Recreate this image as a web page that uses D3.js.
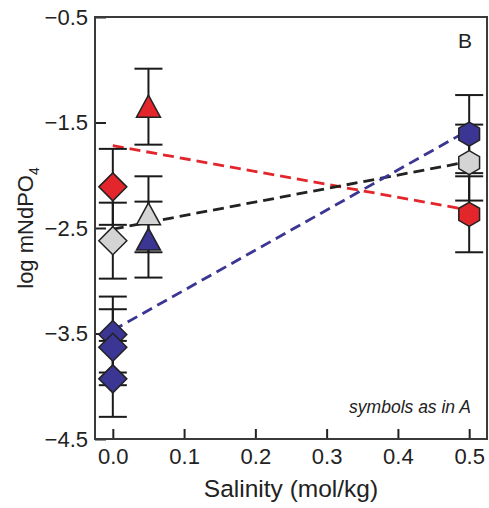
<!DOCTYPE html>
<html>
<head>
<meta charset="utf-8">
<script src="https://cdn.jsdelivr.net/npm/d3@7"></script>
<style>
  body { margin: 0; background: #fff; }
  svg text { font-family: "Liberation Sans", Arial, sans-serif; fill: #222; }
</style>
</head>
<body>
<div id="chart"></div>
<script>
// Data
const salinity = [0, 0, 0, 0, 0, 0.05, 0.05, 0.05, 0.5, 0.5, 0.5];
const logM = [-2.11, -2.62, -3.51, -3.63, -3.93, -1.35, -2.37, -2.61, -1.61, -1.88, -2.37];
const logErr = [0.36, 0.36, 0.36, 0.36, 0.36, 0.36, 0.36, 0.36, 0.37, 0.36, 0.36];
const series = ["red", "grey", "blue", "blue", "blue", "red", "grey", "blue", "blue", "grey", "red"];
const symbolSet = ["s0", "s0", "s0", "s0", "s0", "s1", "s1", "s1", "s2", "s2", "s2"];

// dashed fit lines: value at salinity 0 and 0.5
const fitSeries = ["red", "grey", "blue"];
const fitAt0 = [-1.72, -2.51, -3.47];
const fitAt05 = [-2.33, -1.87, -1.57];

const xTicks = [0, 0.1, 0.2, 0.3, 0.4, 0.5];
const yTicks = [-0.5, -1.5, -2.5, -3.5, -4.5];

// Configuration
const width = 489;
const height = 508;
const margin = {top: 17, right: 2, bottom: 69, left: 95};

const colorScale = d3.scaleOrdinal()
    .domain(["red", "grey", "blue"])
    .range(["#e3262b", "#d4d4d4", "#3b3593"]);
const lineColor = d3.scaleOrdinal()
    .domain(["red", "grey", "blue"])
    .range(["#e3262b", "#222222", "#3b3593"]);

const x = d3.scaleLinear().domain([-0.025, 0.525]).range([margin.left, width - margin.right]);
const y = d3.scaleLinear().domain([-4.5, -0.5]).range([height - margin.bottom, margin.top]);

// marker shapes
function shapePath(set) {
    const p = d3.path();
    if (set === "s0") {
        const r = 14;
        p.moveTo(0, -r); p.lineTo(r, 0); p.lineTo(0, r); p.lineTo(-r, 0);
    } else if (set === "s1") {
        p.moveTo(0, -11.5); p.lineTo(12, 10.5); p.lineTo(-12, 10.5);
    } else {
        const r = 12;
        for (let k = 0; k < 6; k++) {
            const a = -Math.PI / 2 + k * Math.PI / 3;
            if (k === 0) p.moveTo(r * Math.cos(a), r * Math.sin(a));
            else p.lineTo(r * Math.cos(a), r * Math.sin(a));
        }
    }
    p.closePath();
    return p.toString();
}

const svg = d3.select("#chart")
    .append("svg")
    .attr("width", width)
    .attr("height", height);

// Axes (ticks inward)
svg.append("g")
    .attr("transform", `translate(0,${height - margin.bottom})`)
    .call(d3.axisBottom(x).tickValues(xTicks).tickFormat(d3.format(".1f")).tickSize(-10).tickPadding(8))
    .call(g => g.select(".domain").remove())
    .call(g => g.selectAll("line").attr("stroke", "#222").attr("stroke-width", 2))
    .call(g => g.selectAll("text").attr("font-size", 22).attr("dy", "0.75em").attr("y", 8));

svg.append("g")
    .attr("transform", `translate(${margin.left},0)`)
    .call(d3.axisLeft(y).tickValues(yTicks).tickFormat(d3.format(".1f")).tickSize(-11).tickPadding(7))
    .call(g => g.select(".domain").remove())
    .call(g => g.selectAll("line").attr("stroke", "#222").attr("stroke-width", 2))
    .call(g => g.selectAll("text").attr("font-size", 22).attr("x", -7));

// Frame
svg.append("rect")
    .attr("x", margin.left)
    .attr("y", margin.top)
    .attr("width", width - margin.left - margin.right)
    .attr("height", height - margin.top - margin.bottom)
    .attr("fill", "none")
    .attr("stroke", "#3a3a3a")
    .attr("stroke-width", 2);

// Fit lines
svg.selectAll(".fit")
    .data(fitSeries.map((s, i) => ({s, a: fitAt0[i], b: fitAt05[i]})))
    .enter().append("line")
    .attr("class", "fit")
    .attr("x1", x(0)).attr("y1", d => y(d.a))
    .attr("x2", x(0.5)).attr("y2", d => y(d.b))
    .attr("stroke", d => lineColor(d.s))
    .attr("stroke-width", 2.8)
    .attr("stroke-dasharray", "11,6");

const points = salinity.map((s, i) => ({
    s, v: logM[i], e: logErr[i], series: series[i], set: symbolSet[i]
}));

// Error bars
const bars = svg.selectAll(".err")
    .data(points)
    .enter().append("g")
    .attr("class", "err")
    .attr("stroke", "#1a1a1a")
    .attr("stroke-width", 2);

bars.append("line")
    .attr("x1", d => x(d.s)).attr("x2", d => x(d.s))
    .attr("y1", d => y(d.v + d.e)).attr("y2", d => y(d.v - d.e));
bars.append("line")
    .attr("x1", d => x(d.s) - 14).attr("x2", d => x(d.s) + 14)
    .attr("y1", d => y(d.v + d.e)).attr("y2", d => y(d.v + d.e));
bars.append("line")
    .attr("x1", d => x(d.s) - 14).attr("x2", d => x(d.s) + 14)
    .attr("y1", d => y(d.v - d.e)).attr("y2", d => y(d.v - d.e));

// Markers
svg.selectAll(".marker")
    .data(points)
    .enter().append("path")
    .attr("class", "marker")
    .attr("d", d => shapePath(d.set))
    .attr("transform", d => `translate(${x(d.s)},${y(d.v)})`)
    .attr("fill", d => colorScale(d.series))
    .attr("stroke", "#222")
    .attr("stroke-width", 1.5);

// Labels
const yl = svg.append("text")
    .attr("transform", `translate(33,${(margin.top + height - margin.bottom) / 2}) rotate(-90)`)
    .attr("text-anchor", "middle")
    .attr("font-size", 22);
yl.append("tspan").text("log mNdPO");
yl.append("tspan").attr("font-size", 14).attr("dy", 6).text("4");

svg.append("text")
    .attr("x", 291)
    .attr("y", 497)
    .attr("text-anchor", "middle")
    .attr("font-size", 24.5)
    .text("Salinity (mol/kg)");

svg.append("text")
    .attr("x", 465)
    .attr("y", 48)
    .attr("text-anchor", "middle")
    .attr("font-size", 21)
    .text("B");

svg.append("text")
    .attr("x", 471)
    .attr("y", 413)
    .attr("text-anchor", "end")
    .attr("font-size", 17.5)
    .attr("font-style", "italic")
    .attr("fill", "#333")
    .text("symbols as in A");
</script>
</body>
</html>
